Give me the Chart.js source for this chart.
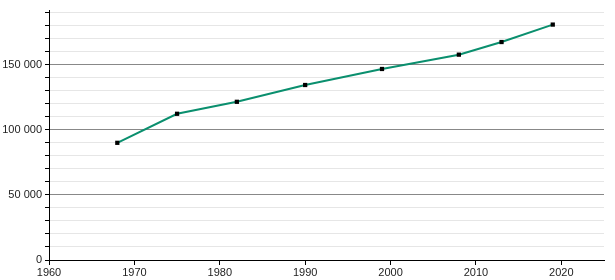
<!DOCTYPE html>
<html>
<head>
<meta charset="utf-8">
<script src="https://cdn.jsdelivr.net/npm/chart.js@4"></script>
<style>
  html, body { margin: 0; padding: 0; background: #fff; }
  #wrap { width: 615px; height: 280px; }
</style>
</head>
<body>
<div id="wrap"><canvas id="chart"></canvas></div>
<script>
// data
const years = [1968, 1975, 1982, 1990, 1999, 2008, 2013, 2019];
const population = [90000, 112300, 121500, 134400, 146700, 157700, 167400, 180800];
const yLabelTicks = [0, 50000, 100000, 150000];
const xLabelTicks = [1960, 1970, 1980, 1990, 2000, 2010, 2020];

const fmt = v => String(v).replace(/\B(?=(\d{3})+(?!\d))/g, ' ');
const tickFont = { family: 'Liberation Sans, Arial, sans-serif', size: 11 };

new Chart(document.getElementById('chart'), {
  type: 'line',
  data: {
    datasets: [{
      data: years.map((y, i) => ({ x: y, y: population[i] })),
      borderColor: '#0a8f6e',
      borderWidth: 2,
      pointStyle: 'rect',
      pointRadius: 3,
      pointBackgroundColor: '#000',
      pointBorderColor: '#000',
      pointBorderWidth: 0,
      tension: 0
    }]
  },
  options: {
    responsive: true,
    maintainAspectRatio: false,
    animation: false,
    layout: { padding: { top: 10, right: 11, left: 0, bottom: 0 } },
    plugins: { legend: { display: false }, tooltip: { enabled: false } },
    scales: {
      x: {
        type: 'linear',
        min: 1960,
        max: 2025,
        afterBuildTicks: s => { s.ticks = xLabelTicks.map(v => ({ value: v })); },
        afterFit: s => { s.height = 20; },
        grid: { drawOnChartArea: false, drawTicks: true, tickLength: 5, tickColor: '#000' },
        border: { color: '#000', width: 1 },
        ticks: { color: '#222', font: tickFont, padding: 1, maxRotation: 0, callback: v => String(v) }
      },
      y: {
        min: 0,
        max: 192000,
        afterBuildTicks: s => {
          const t = [];
          for (let v = 0; v <= 190000; v += 10000) t.push({ value: v });
          s.ticks = t;
        },
        afterFit: s => { s.width = 49; },
        grid: {
          color: c => c.tick.value === 0 ? '#000' : (c.tick.value % 50000 === 0 ? '#888' : '#e6e6e6'),
          tickColor: '#000',
          tickLength: 4,
          lineWidth: 1
        },
        border: { color: '#000', width: 1 },
        ticks: {
          color: '#222',
          font: tickFont,
          padding: 3,
          autoSkip: false,
          callback: v => yLabelTicks.includes(v) ? fmt(v) : ''
        }
      }
    }
  }
});
</script>
</body>
</html>
